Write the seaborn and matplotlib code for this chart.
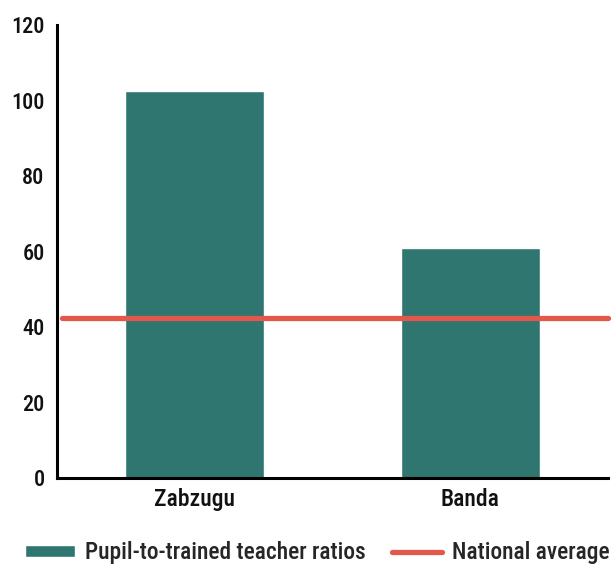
import matplotlib
matplotlib.use("Agg")
import matplotlib.pyplot as plt
import seaborn as sns
import pandas as pd
from matplotlib.patches import Patch
from matplotlib.lines import Line2D
from matplotlib import font_manager

districts = ["Zabzugu", "Banda"]
ratios = [102.5, 61]
national_average = 42.4
yticks = [0, 20, 40, 60, 80, 100, 120]

bar_color = "#2F7570"
line_color = "#E2584A"

sns.set_theme(style="white")
names = {f.name for f in font_manager.fontManager.ttflist}
fam = "Roboto"
for cand in ["Roboto Condensed", "Archivo Narrow", "Liberation Sans Narrow",
             "PT Sans Narrow", "Open Sans Condensed"]:
    if cand in names:
        fam = cand
        break
plt.rcParams["font.family"] = [fam, "DejaVu Sans"]

df = pd.DataFrame({"district": districts, "ratio": ratios})

fig = plt.figure(figsize=(6.11, 5.66), dpi=100)
ax = fig.add_axes([0.0933, 0.1555, 0.9017, 0.8005])
sns.barplot(data=df, x="district", y="ratio", color=bar_color, width=0.505,
            saturation=1, ax=ax)
ax.axhline(national_average, xmin=0.009, xmax=1, color=line_color, lw=3.8,
           clip_on=False, zorder=3)

ax.set_xlim(-0.5, 1.5)
ax.set_ylim(0, 120)
ax.set_yticks(yticks)
ax.set_yticklabels([str(t) for t in yticks])
ax.set_xlabel("")
ax.set_ylabel("")
for s in ["top", "right"]:
    ax.spines[s].set_visible(False)
for s in ["left", "bottom"]:
    ax.spines[s].set_color("black")
    ax.spines[s].set_linewidth(2.2)
ax.tick_params(axis="y", length=0, labelsize=16, colors="#111111", pad=9)
ax.tick_params(axis="x", length=0, labelsize=17, colors="#111111", pad=7)
for lbl in ax.get_xticklabels() + ax.get_yticklabels():
    lbl.set_fontweight("medium")

handles = [Patch(facecolor=bar_color, label="Pupil-to-trained teacher ratios"),
           Line2D([0], [0], color=line_color, lw=3.8, label="National average")]
leg = fig.legend(handles=handles, loc="center left",
                 bbox_to_anchor=(25 / 611, 13 / 566),
                 ncol=2, frameon=False, borderpad=0, borderaxespad=0,
                 handlelength=2.15, handleheight=0.4,
                 columnspacing=1.1, handletextpad=0.43,
                 prop={"size": 16.8, "weight": "medium"})

fig.savefig("out.png", dpi=100)
